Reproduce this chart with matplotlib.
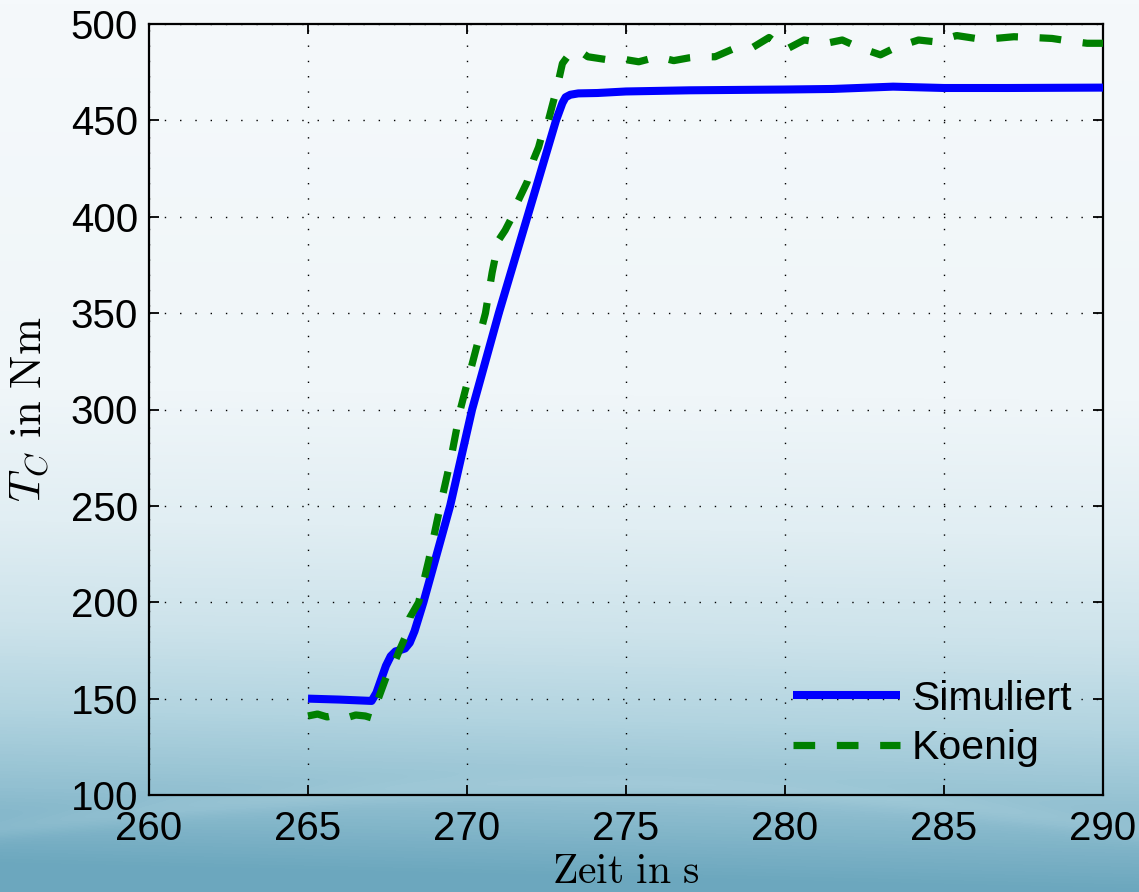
import numpy as np
import matplotlib
matplotlib.use("Agg")
import matplotlib.pyplot as plt
from matplotlib.colors import LinearSegmentedColormap

plt.rcParams["font.family"] = ["Liberation Sans", "DejaVu Sans"]
plt.rcParams["mathtext.fontset"] = "cm"

# Simulated clutch torque
t_sim = [265.0, 266.0, 267.0, 267.15, 267.3, 267.45, 267.6, 267.75, 267.9, 268.05,
         268.2, 268.35, 268.63, 269.0, 269.47, 270.16, 271.0, 271.9, 272.8, 273.0,
         273.1, 273.25, 273.5, 274.1, 275.0, 277.0, 280.0, 281.5, 283.4, 285.0,
         287.0, 290.0]
tc_sim = [150.0, 149.5, 148.8, 153.0, 160.0, 167.0, 172.0, 174.5, 175.2, 176.0,
          179.0, 185.0, 200.0, 222.0, 250.0, 300.0, 350.0, 400.0, 450.0, 459.0,
          462.0, 463.3, 464.0, 464.2, 465.0, 465.6, 466.0, 466.3, 467.5, 466.8,
          466.8, 467.0]

# Measured clutch torque (Koenig)
t_koe = [265.0, 265.3, 265.6, 265.9, 266.2, 266.5, 266.8, 267.0, 267.1, 267.3,
         267.5, 267.7, 267.9, 268.06, 268.2, 268.48, 268.8, 269.16, 269.5, 269.79,
         270.2, 270.58, 270.79, 271.0, 271.2, 271.42, 271.6, 271.89, 272.1, 272.25,
         272.4, 272.56, 272.83, 273.0, 273.2, 273.5, 273.8, 274.2, 274.6, 275.0,
         275.4, 276.0, 276.5, 277.0, 277.3, 277.8, 278.4, 279.0, 279.5, 280.0,
         280.6, 281.3, 281.8, 282.3, 283.0, 283.5, 284.2, 284.7, 285.4, 286.0,
         286.6, 287.2, 287.8, 288.4, 289.0, 289.5, 290.0]
tc_koe = [141.0, 142.0, 140.5, 141.5, 140.0, 141.5, 141.0, 140.0, 145.0, 154.0,
          163.0, 168.0, 176.0, 182.0, 192.0, 200.0, 222.0, 250.0, 275.0, 300.0,
          326.0, 350.0, 371.0, 388.0, 393.0, 400.0, 408.0, 418.0, 430.0, 436.0,
          445.0, 450.0, 467.0, 479.5, 484.0, 486.5, 483.0, 482.0, 481.0, 481.5,
          480.4, 483.0, 481.0, 482.5, 483.0, 483.0, 487.3, 488.0, 493.0, 486.5,
          491.7, 490.0, 491.7, 488.0, 484.0, 488.0, 491.7, 490.8, 494.0, 492.5,
          492.5, 493.4, 493.0, 492.5, 491.0, 490.0, 490.0]

x_ticks = [260, 265, 270, 275, 280, 285, 290]
y_ticks = [100, 150, 200, 250, 300, 350, 400, 450, 500]

W, H = 1139, 892
fig = plt.figure(figsize=(W / 100, H / 100), dpi=100)

# Slide-style backdrop: pale top fading into teal at the bottom
bg = fig.add_axes([0, 0, 1, 1], zorder=-10)
bg.set_axis_off()
stops = [(0.0, (245, 249, 251)), (0.45, (240, 246, 249)), (0.60, (225, 238, 243)),
         (0.72, (205, 227, 235)), (0.82, (178, 212, 224)), (0.91, (146, 192, 209)),
         (1.0, (108, 167, 190))]
cmap = LinearSegmentedColormap.from_list(
    "slide", [(p, tuple(c / 255 for c in col)) for p, col in stops])
yy, xx = np.mgrid[0:1:H * 1j, 0:1:W * 1j]
field = yy + 0.03 * (1 - xx) * yy
wave = 0.93 - 0.06 * np.sin(np.pi * xx * 0.9) + 0.02 * xx
field = field - 0.025 * np.exp(-((yy - wave) / 0.012) ** 2)
bg.imshow(np.clip(field, 0, 1), cmap=cmap, vmin=0, vmax=1, aspect="auto",
          extent=[0, 1, 0, 1], origin="upper")
bg.set_xlim(0, 1)
bg.set_ylim(0, 1)

ax = fig.add_axes([149 / W, 1 - 795 / H, (1103 - 149) / W, (795 - 24) / H])
ax.patch.set_alpha(0)

ax.plot(t_sim, tc_sim, color="#0000ff", lw=5.8, label="Simuliert",
        solid_capstyle="butt", solid_joinstyle="round", zorder=3)
ax.plot(t_koe, tc_koe, color="#008000", lw=5.2, linestyle=(0, (3, 3)),
        label="Koenig", zorder=4)

ax.set_xlim(260, 290)
ax.set_ylim(100, 500)
ax.set_xticks(x_ticks)
ax.set_yticks(y_ticks)
ax.tick_params(direction="in", length=7, width=1.3, top=True, right=True,
               labelsize=29)
ax.tick_params(axis="x", pad=11)
ax.tick_params(axis="y", pad=8)
for s in ax.spines.values():
    s.set_linewidth(1.6)
ax.grid(True, color="black", linewidth=1.0, linestyle=(0, (1, 10)))

ax.set_xlabel(r"$\mathrm{Zeit\ in\ s}$", fontsize=30)
ax.set_ylabel(r"$T_C\ \mathrm{in\ Nm}$", fontsize=32)
ax.xaxis.set_label_coords(0.5, -0.074)
ax.yaxis.set_label_coords(-0.103, 0.5)

leg = ax.legend(loc="lower right", bbox_to_anchor=(0.967, 0.036), frameon=False,
                fontsize=29.5, handlelength=2.6, handletextpad=0.3,
                labelspacing=0.28, borderaxespad=0, borderpad=0)

fig.savefig("out.png", dpi=100)
